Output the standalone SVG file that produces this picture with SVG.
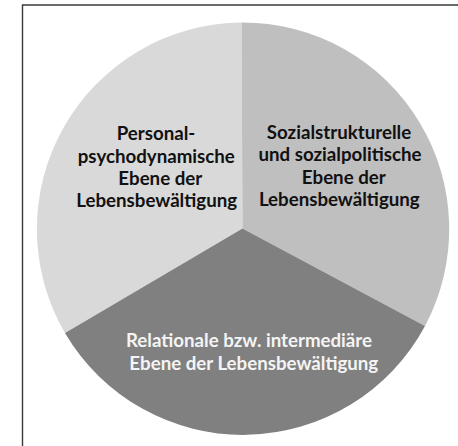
<svg xmlns="http://www.w3.org/2000/svg" width="458" height="446" viewBox="0 0 458 446">
<style>
.frame{fill:none;stroke:#3a3a3a;stroke-width:1.4}
.lbl{font-family:Lato,"Open Sans","Liberation Sans",sans-serif;font-weight:700;font-size:18.7px;text-anchor:middle}
.dark{fill:#111111}
.light{fill:#f4f4f4}
</style>
<rect width="458" height="446" fill="#ffffff"/>
<path class="frame" d="M22.5,446 V5 H458"/>
<g id="personal">
<path d="M242.5,228.5 L65,333 A206.5,206.5 0 0 1 241.5,22.5 Z" fill="#d9d9d9"/>
<text class="lbl dark"><tspan x="156" y="140">Personal-</tspan><tspan x="156.3" y="162.5">psychodynamische</tspan><tspan x="160.3" y="185">Ebene der</tspan><tspan x="156.7" y="207.3">Lebensbewältigung</tspan></text>
</g>
<g id="sozialstrukturell">
<path d="M242.5,228.5 L241.5,22.5 A206.5,206.5 0 0 1 425,326 Z" fill="#bfbfbf"/>
<text class="lbl dark"><tspan x="339" y="138.5">Sozialstrukturelle</tspan><tspan x="340" y="161">und sozialpolitische</tspan><tspan x="343.8" y="183.5">Ebene der</tspan><tspan x="339.3" y="206">Lebensbewältigung</tspan></text>
</g>
<g id="relational">
<path d="M242.5,228.5 L425,326 A206.5,206.5 0 0 1 65,333 Z" fill="#808080"/>
<text class="lbl light"><tspan x="249" y="347">Relationale bzw. intermediäre</tspan><tspan x="253.8" y="369.5">Ebene der Lebensbewältigung</tspan></text>
</g>
</svg>
